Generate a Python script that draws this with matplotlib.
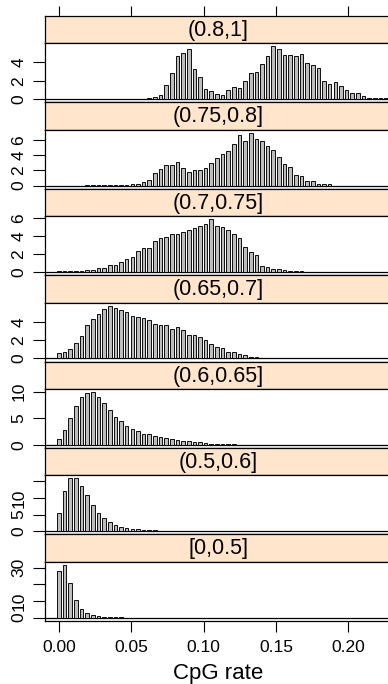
import matplotlib
matplotlib.use('Agg')
import matplotlib.pyplot as plt
import numpy as np

plt.rcParams['font.family'] = ['Liberation Sans', 'DejaVu Sans']

# ---------------- data (percent of windows per CpG-rate bin) ----------------
bin_width = 0.0039
strip_labels = ['(0.8,1]', '(0.75,0.8]', '(0.7,0.75]', '(0.65,0.7]',
                '(0.6,0.65]', '(0.5,0.6]', '[0,0.5]']

pct_080_100 = [0, 0, 0, 0, 0, 0, 0, 0, 0, 0.03, 0, 0, 0, 0.03, 0, 0.02,
               0.1, 0.2, 0.43, 1.55, 2.85, 4.7, 5.0, 5.4, 3.25, 2.35, 1.1, 0.9,
               0.55, 0.45, 1.05, 1.3, 1.25, 2.0, 2.85, 2.9, 3.8, 4.7, 5.7, 5.45,
               4.8, 4.8, 4.7, 4.85, 3.9, 3.7, 3.35, 1.95, 1.65, 1.85, 1.45, 0.95,
               0.65, 0.7, 0.35, 0.15, 0.15, 0.15, 0.15]
pct_075_080 = [0, 0, 0, 0, 0, 0.04, 0.04, 0.04, 0.04, 0.04, 0.04, 0.04,
               0.1, 0.15, 0.25, 0.5, 0.7, 1.7, 2.15, 2.75, 2.75, 3.05, 2.3, 1.8,
               2.05, 2.0, 2.3, 2.9, 3.6, 4.15, 4.5, 5.45, 6.6, 5.85, 6.9, 6.1,
               5.85, 5.15, 4.65, 3.7, 2.85, 2.5, 1.45, 1.2, 0.6, 0.55, 0.25,
               0.15, 0.15]
pct_070_075 = [0.15, 0.15, 0.15, 0.15, 0.15, 0.2, 0.22, 0.45, 0.5, 0.8, 0.75,
               1.1, 1.45, 1.7, 2.3, 2.65, 2.7, 3.5, 3.75, 3.9, 4.2, 4.2, 4.5,
               4.7, 4.9, 5.2, 5.4, 5.9, 5.15, 5.0, 4.75, 4.3, 3.8, 2.85, 2.25,
               1.9, 0.65, 0.6, 0.35, 0.3, 0.22, 0.12, 0.1, 0.06]
pct_065_070 = [0.55, 0.7, 1.0, 1.7, 2.45, 3.65, 4.3, 4.85, 5.4, 5.75, 5.45,
               5.3, 5.1, 4.6, 4.5, 4.4, 4.2, 3.75, 3.65, 3.6, 3.25, 3.4, 3.1,
               2.6, 2.6, 2.3, 2.0, 1.6, 1.25, 1.1, 0.75, 0.65, 0.45, 0.35, 0.2,
               0.15, 0.07, 0.07, 0.04, 0.04, 0.03, 0.02, 0.02, 0.02, 0.02]
pct_060_065 = [1.05, 2.7, 5.0, 7.3, 9.0, 9.7, 9.9, 8.9, 7.9, 6.6, 5.3, 4.4,
               3.6, 3.0, 2.6, 2.1, 1.95, 1.75, 1.5, 1.3, 1.1, 0.95, 0.8, 0.75,
               0.55, 0.45, 0.3, 0.2, 0.15, 0.12, 0.1, 0.08, 0.06, 0.05]
pct_050_060 = [5.5, 12.0, 15.8, 15.8, 13.6, 10.7, 7.9, 5.6, 4.0, 2.8, 2.0,
               1.4, 1.1, 0.8, 0.6, 0.5, 0.35, 0.3, 0.2, 0.15, 0.12, 0.1, 0.08]
pct_000_050 = [28.0, 31.8, 21.0, 10.9, 5.2, 2.8, 1.6, 1.0, 0.6, 0.3, 0.2, 0.1]

series = [pct_080_100, pct_075_080, pct_070_075, pct_065_070,
          pct_060_065, pct_050_060, pct_000_050]

y_ticks = [[0, 2, 4], [0, 2, 4, 6], [0, 2, 4, 6], [0, 2, 4],
           [0, 5, 10], [0, 5, 10, 15], [0, 10, 20, 30]]
y_ticklabels = [['0', '2', '4'], ['0', '2', '4', '6'], ['0', '2', '4', '6'],
                ['0', '2', '4'], ['0', '5', '10'], ['0', '5', '10', ''],
                ['0', '10', '', '30']]

x_ticks = [0.00, 0.05, 0.10, 0.15, 0.20]
x_ticklabels = ['0.00', '0.05', '0.10', '0.15', '0.20']

# ---------------- layout (pixels) ----------------
W, H = 388, 684
fig = plt.figure(figsize=(W / 100, H / 100), dpi=100)

left_px, right_px = 45, 391
x0_px, px_per_005 = 59, 72.3
xlim = ((left_px - x0_px) / px_per_005 * 0.05, (right_px - x0_px) / px_per_005 * 0.05)

top_px = 16
row_h = 86.4
strip_h = 27.3
pad = 0.06

strip_col = '#ffe5cc'
edge_lw = 0.9


def fr(x, y, w, h):
    return [x / W, 1 - (y + h) / H, w / W, h / H]


for k, (vals, lab) in enumerate(zip(series, strip_labels)):
    st = top_px + k * row_h
    # strip
    sax = fig.add_axes(fr(left_px, st, right_px - left_px, strip_h))
    sax.set_facecolor(strip_col)
    sax.set_xlim(xlim)
    sax.set_ylim(0, 1)
    sax.set_yticks([])
    for sp in sax.spines.values():
        sp.set_linewidth(edge_lw)
        sp.set_color('black')
    sax.text(0.5, 0.47, lab, transform=sax.transAxes, ha='center', va='center',
             fontsize=15.5)
    if k == 0:
        sax.set_xticks(x_ticks)
        sax.tick_params(axis='x', top=True, bottom=False, labeltop=False,
                        labelbottom=False, direction='out', length=7.2, width=0.8)
    else:
        sax.set_xticks([])

    # panel
    pax = fig.add_axes(fr(left_px, st + strip_h, right_px - left_px, row_h - strip_h))
    pax.set_xlim(xlim)
    m = max(vals)
    pax.set_ylim(-pad * m, m * (1 + pad))
    xs = np.arange(len(vals)) * bin_width
    pax.axhline(0, color='black', lw=0.9, zorder=1)
    pax.bar(xs, vals, width=bin_width * 0.64, color='#bdbdbd', edgecolor='black',
            linewidth=0.65, align='center', zorder=2)
    for sp in pax.spines.values():
        sp.set_linewidth(edge_lw)
        sp.set_color('black')
    pax.set_yticks(y_ticks[k])
    pax.set_yticklabels(y_ticklabels[k], rotation=90, va='center', fontsize=12.5)
    pax.tick_params(axis='y', direction='out', length=8.5, width=0.8, pad=5)
    if k == len(series) - 1:
        pax.set_xticks(x_ticks)
        pax.set_xticklabels(x_ticklabels, fontsize=12.5)
        pax.tick_params(axis='x', direction='out', length=8, width=0.8, pad=6)
    else:
        pax.set_xticks([])

fig.text((left_px + right_px) / 2 / W, 1 - 674 / H, 'CpG rate', ha='center',
         va='center', fontsize=16)

fig.savefig('out.png', dpi=100)
